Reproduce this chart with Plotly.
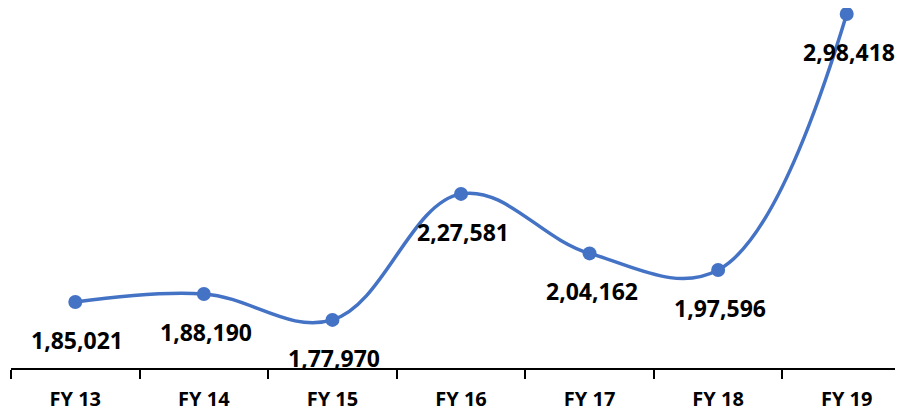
import plotly.graph_objects as go

years = ["FY 13", "FY 14", "FY 15", "FY 16", "FY 17", "FY 18", "FY 19"]
values = [185021, 188190, 177970, 227581, 204162, 197596, 298418]

BLUE = "#4472C4"
FONT = "Open Sans"


def indian_fmt(n):
    # 1,85,021 style grouping
    s = str(int(n))
    if len(s) <= 3:
        return s
    head, tail = s[:-3], s[-3:]
    parts = []
    while len(head) > 2:
        parts.insert(0, head[-2:])
        head = head[:-2]
    if head:
        parts.insert(0, head)
    return ",".join(parts) + "," + tail


fig = go.Figure()
fig.add_trace(go.Scatter(
    x=years, y=values,
    mode="lines+markers",
    line=dict(color=BLUE, width=3.5, shape="spline", smoothing=1.1),
    marker=dict(color=BLUE, size=14),
    cliponaxis=False,
    hoverinfo="skip",
))

for x, v in zip(years, values):
    fig.add_annotation(
        x=x, y=v, text=f"<b>{indian_fmt(v)}</b>",
        showarrow=False, yshift=-38, xshift=2,
        font=dict(family=FONT, size=23, color="black"),
    )

fig.update_layout(
    width=903, height=415,
    margin=dict(l=3, r=0, t=0, b=55),
    paper_bgcolor="white", plot_bgcolor="white",
    showlegend=False,
    xaxis=dict(
        type="category", range=[-0.5, 6.5],
        showline=True, linecolor="black", linewidth=1.5,
        ticks="outside", tickson="boundaries", ticklen=9,
        tickcolor="black", tickwidth=1.5,
        showgrid=False, zeroline=False,
        ticklabelstandoff=12,
        tickfont=dict(family=FONT, size=20, color="black", weight="bold"),
    ),
    yaxis=dict(
        range=[159035, 300770], visible=False,
        showgrid=False, zeroline=False,
    ),
)

fig.write_html("out.html")
